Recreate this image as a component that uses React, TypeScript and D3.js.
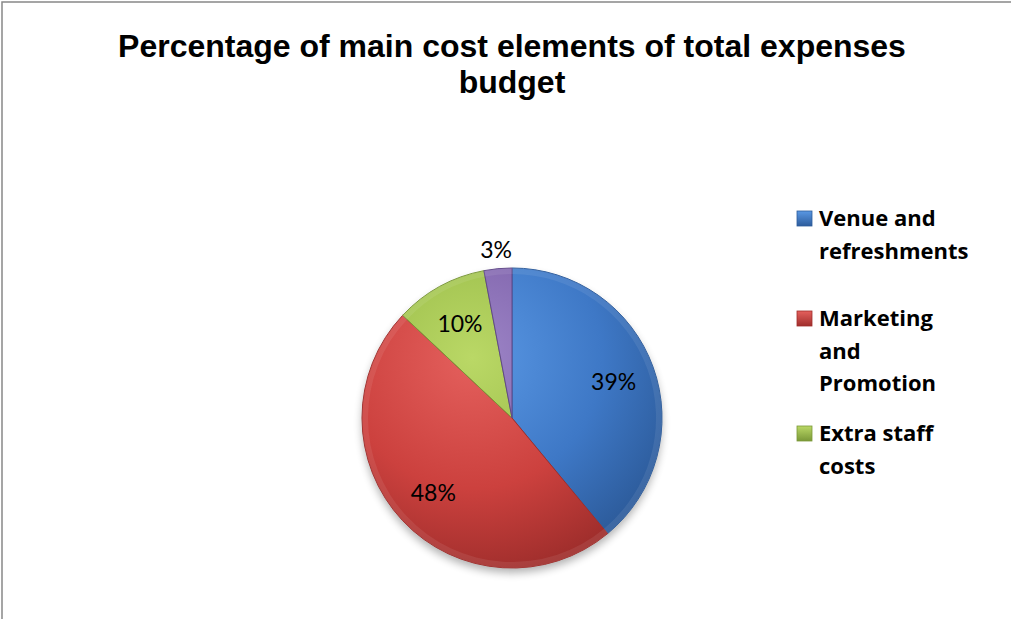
import React from "react";
import * as d3 from "d3";

const categories = ["Venue and refreshments", "Marketing and Promotion", "Extra staff costs", "Other"];
const values = [39, 48, 10, 3];
const legendLines = [["Venue and", "refreshments"], ["Marketing", "and", "Promotion"], ["Extra staff", "costs"]];
const colors = [
  ["#5a98e4", "#3e78c6", "#2d5c9c"],
  ["#e4605d", "#cc413e", "#a02e2c"],
  ["#bad866", "#9bbd4a", "#7a9838"],
  ["#9e86c8", "#7e62aa", "#614889"],
];

export default function App() {
  const W = 1011, H = 619;
  const cx = 512, cy = 418, R = 150;
  const total = d3.sum(values);
  const pie = d3.pie<number>().sort(null).value((d) => d);
  const arcs = pie(values);
  const arc = d3.arc<d3.PieArcDatum<number>>().innerRadius(0).outerRadius(R);
  const rim = d3.arc<d3.PieArcDatum<number>>().innerRadius(R - 6).outerRadius(R);
  const labelArcIn = d3.arc<d3.PieArcDatum<number>>().innerRadius(R * 0.72).outerRadius(R * 0.72);
  const labelArcOut = d3.arc<d3.PieArcDatum<number>>().innerRadius(R * 1.13).outerRadius(R * 1.13);
  const legendY = [218, 318, 433];
  const lh = 32.5;
  return (
    <svg width={W} height={H} style={{ position: "absolute", left: 0, top: 0, background: "#fff" }}>
      <defs>
        {colors.map((c, i) => (
          <radialGradient key={i} id={`g${i}`} cx={-40} cy={-60} r={R * 1.45} gradientUnits="userSpaceOnUse">
            <stop offset="0%" stopColor={c[0]} />
            <stop offset="60%" stopColor={c[1]} />
            <stop offset="100%" stopColor={c[2]} />
          </radialGradient>
        ))}
        {colors.map((c, i) => (
          <linearGradient key={i} id={`l${i}`} x1="0" y1="0" x2="0" y2="1">
            <stop offset="0%" stopColor={c[0]} />
            <stop offset="100%" stopColor={c[2]} />
          </linearGradient>
        ))}
        <filter id="shadow" x="-20%" y="-20%" width="140%" height="140%">
          <feGaussianBlur stdDeviation="4" />
        </filter>
      </defs>
      <rect x={2} y={2} width={W + 20} height={H + 20} fill="#fff" stroke="#888" strokeWidth={1.5} />
      <text x={512} y={57} textAnchor="middle" fontFamily="Liberation Sans, Arial, sans-serif" fontWeight="bold" fontSize={32} fill="#000">
        Percentage of main cost elements of total expenses
      </text>
      <text x={512} y={93} textAnchor="middle" fontFamily="Liberation Sans, Arial, sans-serif" fontWeight="bold" fontSize={32} fill="#000">
        budget
      </text>
      <circle cx={cx} cy={cy + 5} r={R} fill="#000" opacity={0.3} filter="url(#shadow)" />
      <g transform={`translate(${cx},${cy})`}>
        {arcs.map((a, i) => (
          <path key={i} d={arc(a) || ""} fill={`url(#g${i})`} stroke={colors[i][2]} strokeWidth={1} />
        ))}
        {arcs.map((a, i) => (
          <path key={`r${i}`} d={rim(a) || ""} fill="#fff" opacity={0.08} />
        ))}
        {arcs.map((a, i) => {
          const outside = a.value / total < 0.05;
          const [x, y] = (outside ? labelArcOut : labelArcIn).centroid(a);
          return (
            <text key={i} x={x} y={y} textAnchor="middle" dominantBaseline="central" fontFamily="Lato, Open Sans, sans-serif" fontSize={23} fill="#000">
              {`${Math.round((a.value / total) * 100)}%`}
            </text>
          );
        })}
      </g>
      {legendLines.map((lines, i) => (
        <g key={i}>
          <rect x={797} y={legendY[i] - 7} width={15} height={15} fill={`url(#l${i})`} stroke={colors[i][2]} strokeWidth={0.8} />
          {lines.map((t, j) => (
            <text key={j} x={819} y={legendY[i] + 8 + j * lh} fontFamily="Open Sans, sans-serif" fontWeight="bold" fontSize={22} fill="#000">
              {t}
            </text>
          ))}
        </g>
      ))}
    </svg>
  );
}
